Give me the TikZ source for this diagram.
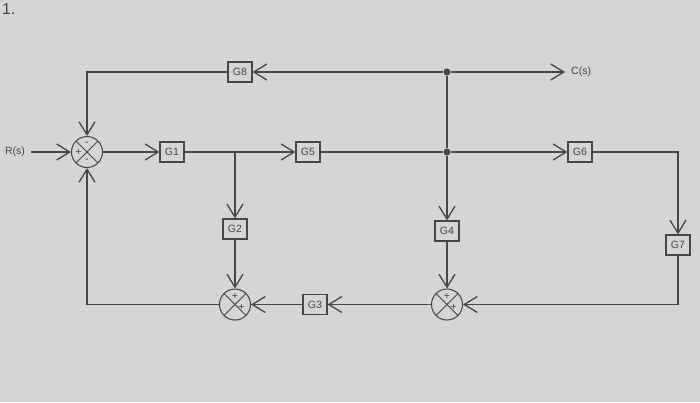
\documentclass[tikz,border=0pt]{standalone}
\usepackage{xcolor}
\usepackage{tikz}
\usepackage{fontspec}
\setmainfont{Liberation Sans}
\usetikzlibrary{arrows.meta}
\usetikzlibrary{positioning}
\definecolor{paper}{HTML}{D3D6D2}
\definecolor{ink}{HTML}{464846}
\tikzset{
    block/.style={draw=ink, fill=paper, line width=0.7pt, minimum width=0.48cm, minimum height=0.4cm, inner sep=0pt, font=\fontsize{6}{7}\selectfont, text=ink},
    summer/.style={draw=ink, circle, line width=0.6pt, minimum size=0.62cm, inner sep=0pt,
        path picture={\draw[ink, line width=0.5pt] (path picture bounding box.north west) -- (path picture bounding box.south east)
            (path picture bounding box.north east) -- (path picture bounding box.south west);}},
    sign/.style={font=\fontsize{6}{6}\selectfont, text=ink, inner sep=0pt},
    signal/.style={draw=ink, line width=0.75pt, -{Straight Barb[length=2.6mm, width=3.2mm]}},
    wire/.style={draw=ink, line width=0.75pt},
    tap/.style={circle, fill=ink, inner sep=0pt, minimum size=4pt},
    caption/.style={font=\fontsize{6}{7}\selectfont, text=ink},
}

\begin{document}
\begin{tikzpicture}
        \fill[paper] (0,0) rectangle (14,8.04);
        \useasboundingbox (0,0) rectangle (14,8.04);
        \node[anchor=north west, font=\small, text=ink, inner sep=1pt] (num) at (0,8.0) {1.};

        % forward path
        \node[caption] (R) at (0.3,5.0) {R(s)};
        \node[summer] (S1) at (1.74,5.0) {};
        \node[block] (G1) at (3.44,5.0) {G1};
        \coordinate (B1) at (4.7,5.0);
        \node[block] (G5) at (6.16,5.0) {G5};
        \node[tap] (B2) at (8.94,5.0) {};
        \node[block] (G6) at (11.6,5.0) {G6};
        \node[block] (G7) at (13.56,3.14) {G7};

        % feedback paths
        \node[tap] (T) at (8.94,6.6) {};
        \node[block] (G8) at (4.8,6.6) {G8};
        \node[caption, anchor=west] (C) at (11.3,6.6) {C(s)};
        \node[block] (G2) at (4.7,3.46) {G2};
        \node[block] (G4) at (8.94,3.42) {G4};
        \node[summer] (S2) at (4.7,1.95) {};
        \node[summer] (S3) at (8.94,1.95) {};
        \node[block] (G3) at (6.3,1.95) {G3};

        % signs
        \node[sign] at ([yshift=0.17cm]S1.center) {-};
        \node[sign] at ([xshift=-0.17cm]S1.center) {+};
        \node[sign] at ([yshift=-0.17cm]S1.center) {-};
        \node[sign] at ([yshift=0.16cm]S2.center) {+};
        \node[sign] at ([xshift=0.13cm, yshift=-0.05cm]S2.center) {+};
        \node[sign] at ([yshift=0.16cm]S3.center) {+};
        \node[sign] at ([xshift=0.13cm, yshift=-0.05cm]S3.center) {+};

        \draw[signal] (R.east) -- (S1.west);
        \draw[signal] (S1.east) -- (G1.west);
        \draw[wire] (G1.east) -- (B1);
        \draw[signal] (B1) -- (G5.west);
        \draw[wire] (G5.east) -- (B2);
        \draw[signal] (B2) -- (G6.west);
        \draw[signal] (G6.east) -| (G7.north);
        \draw[signal] (G7.south) |- (S3.east);
        \draw[wire] (T) -- (B2);
        \draw[signal] (B2) -- (G4.north);
        \draw[signal] (G4.south) -- (S3.north);
        \draw[signal] (T) -- (C.west);
        \draw[signal] (T) -- (G8.east);
        \draw[signal] (G8.west) -| (S1.north);
        \draw[signal] (B1) -- (G2.north);
        \draw[signal] (G2.south) -- (S2.north);
        \draw[signal] (S3.west) -- (G3.east);
        \draw[signal] (G3.west) -- (S2.east);
        \draw[signal] (S2.west) -| (S1.south);
\end{tikzpicture}
\end{document}
